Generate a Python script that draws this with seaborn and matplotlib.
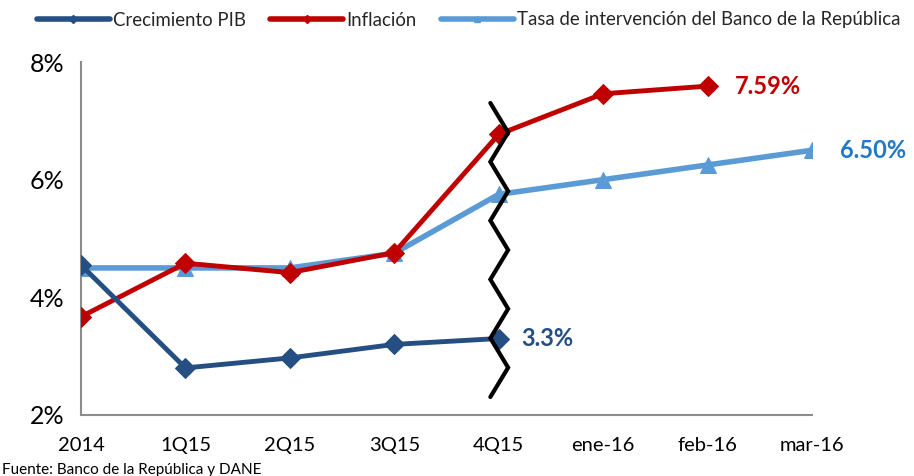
import numpy as np
import pandas as pd
import matplotlib
matplotlib.use("Agg")
import matplotlib.pyplot as plt
import seaborn as sns
from matplotlib.lines import Line2D

categories = ["2014", "1Q15", "2Q15", "3Q15", "4Q15", "ene-16", "feb-16", "mar-16"]
pib = [4.55, 2.80, 2.97, 3.20, 3.30]
inflacion = [3.67, 4.58, 4.42, 4.76, 6.77, 7.46, 7.59]
tasa = [4.50, 4.50, 4.50, 4.75, 5.75, 6.00, 6.25, 6.50]
y_ticks = [2, 4, 6, 8]
labels_series = ["Crecimiento PIB", "Inflación", "Tasa de intervención del Banco de la República"]

c_pib = "#254E82"
c_inf = "#C00000"
c_tasa = "#5B9BD5"
c_tasa_lbl = "#1F78C8"

sns.set_theme(style="white")
plt.rcParams["font.family"] = ["Lato", "DejaVu Sans"]

fig = plt.figure(figsize=(9.14, 4.76), dpi=100)
ax = fig.add_axes([81/914, 1-415/476, (812-81)/914, (415-62)/476])

df_pib = pd.DataFrame({"x": np.arange(len(pib)), "y": pib})
df_inf = pd.DataFrame({"x": np.arange(len(inflacion)), "y": inflacion})
df_tasa = pd.DataFrame({"x": np.arange(len(tasa)), "y": tasa})

sns.lineplot(data=df_tasa, x="x", y="y", ax=ax, color=c_tasa, lw=4, marker="^",
             markersize=12, markeredgecolor=c_tasa, zorder=3)
sns.lineplot(data=df_inf, x="x", y="y", ax=ax, color=c_inf, lw=3.5, marker="D",
             markersize=10, markeredgecolor=c_inf, zorder=4)
sns.lineplot(data=df_pib, x="x", y="y", ax=ax, color=c_pib, lw=3.5, marker="D",
             markersize=10, markeredgecolor=c_pib, zorder=5)

ax.set_xlim(0, len(categories) - 1)
ax.set_ylim(y_ticks[0], y_ticks[-1])
ax.set_xticks(np.arange(len(categories)))
ax.set_xticklabels(categories, fontsize=14.5)
ax.set_yticks(y_ticks)
ax.set_yticklabels([f"{v}%" for v in y_ticks], fontsize=18)
ax.set_xlabel("")
ax.set_ylabel("")
for s in ["top", "right"]:
    ax.spines[s].set_visible(False)
for s in ["left", "bottom"]:
    ax.spines[s].set_color("#8C8C8C")
    ax.spines[s].set_linewidth(1.5)
ax.tick_params(axis="both", which="both", direction="out", length=6, width=1.5,
               color="#8C8C8C", labelcolor="black")
ax.tick_params(axis="x", pad=10)
ax.tick_params(axis="y", pad=6)

# zigzag break marker at 4Q15
bx = 4
n = 11
zy = np.linspace(1 - (103-62)/353, 1 - (397-62)/353, n)
zx = np.array([bx - 0.08 if i % 2 == 0 else bx + 0.09 for i in range(n)])
ax.plot(zx, zy, transform=ax.get_xaxis_transform(), color="black", lw=3,
        solid_joinstyle="miter", zorder=6, clip_on=False)

# data labels
ax.annotate(f"{inflacion[-1]:.2f}%", (len(inflacion)-1, inflacion[-1]), xytext=(20, 0),
            textcoords="offset points", color=c_inf, fontsize=17, fontweight="bold",
            va="center", ha="left")
ax.annotate(f"{tasa[-1]:.2f}%", (len(tasa)-1, tasa[-1]), xytext=(20, 0),
            textcoords="offset points", color=c_tasa_lbl, fontsize=17, fontweight="bold",
            va="center", ha="left", annotation_clip=False)
ax.annotate(f"{pib[-1]:.1f}%", (len(pib)-1, pib[-1]), xytext=(16, 0),
            textcoords="offset points", color=c_pib, fontsize=17, fontweight="bold",
            va="center", ha="left")

handles = [
    Line2D([], [], color=c_pib, lw=4, marker="D", markersize=4),
    Line2D([], [], color=c_inf, lw=4, marker="D", markersize=4),
    Line2D([], [], color=c_tasa, lw=4, marker="^", markersize=4),
]
fig.legend(handles, labels_series, loc="center", bbox_to_anchor=(0.513, 1-20/476),
           ncol=3, frameon=False, fontsize=13.4, handlelength=3.9, handletextpad=0.2,
           columnspacing=1.3)

fig.text(2/914, 1-463/476, "Fuente: Banco de la República y DANE", fontsize=11,
         va="top", ha="left", color="black")

fig.savefig("out.png", dpi=100)
